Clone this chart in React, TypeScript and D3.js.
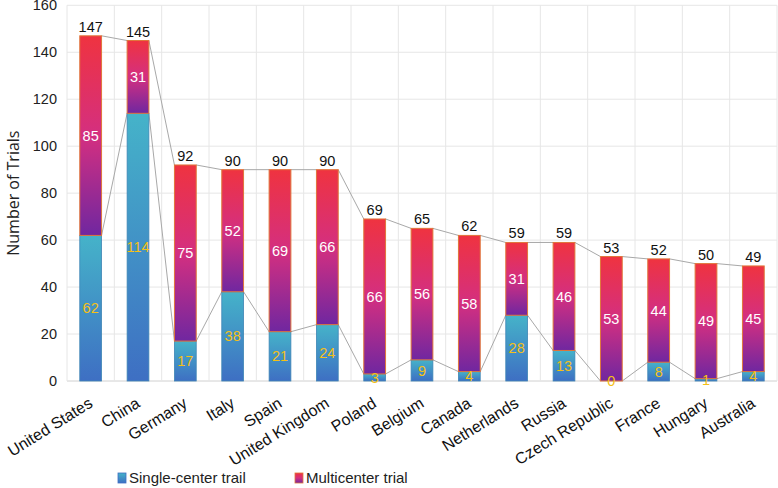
import { useEffect, useRef } from 'react';
import * as d3 from 'd3';

const countries = ['United States', 'China', 'Germany', 'Italy', 'Spain', 'United Kingdom', 'Poland', 'Belgium', 'Canada', 'Netherlands', 'Russia', 'Czech Republic', 'France', 'Hungary', 'Australia'];
const singleCenter = [62, 114, 17, 38, 21, 24, 3, 9, 4, 28, 13, 0, 8, 1, 4];
const multiCenter = [85, 31, 75, 52, 69, 66, 66, 56, 58, 31, 46, 53, 44, 49, 45];
const yTicks = [0, 20, 40, 60, 80, 100, 120, 140, 160];

const FONT = '"Liberation Sans", Arial, sans-serif';
const TITLE_FONT = '"Open Sans", "DejaVu Sans", sans-serif';

export default function App() {
  const ref = useRef<SVGSVGElement>(null);

  useEffect(() => {
    if (!ref.current) return;
    const svg = d3.select(ref.current);
    svg.selectAll('*').remove();

    const W = 778, H = 488;
    const left = 67, right = 777, top = 5.3, bottom = 381;

    const x = d3.scaleBand<string>().domain(countries).range([left, right]);
    const y = d3.scaleLinear().domain([0, 160]).range([bottom, top]);
    const barW = x.bandwidth() * 0.46;

    const defs = svg.append('defs');
    const gS = defs.append('linearGradient').attr('id', 'gSingle').attr('x1', 0).attr('y1', 0).attr('x2', 0).attr('y2', 1);
    gS.append('stop').attr('offset', '0%').attr('stop-color', '#45b3c9');
    gS.append('stop').attr('offset', '100%').attr('stop-color', '#3e6fc3');
    const gM = defs.append('linearGradient').attr('id', 'gMulti').attr('x1', 0).attr('y1', 0).attr('x2', 0).attr('y2', 1);
    gM.append('stop').attr('offset', '0%').attr('stop-color', '#ef3340');
    gM.append('stop').attr('offset', '50%').attr('stop-color', '#d42f80');
    gM.append('stop').attr('offset', '100%').attr('stop-color', '#7027a0');

    // grid
    const grid = svg.append('g');
    yTicks.forEach(t => {
      grid.append('line').attr('x1', left).attr('x2', right).attr('y1', y(t)).attr('y2', y(t))
        .attr('stroke', t === 0 ? '#d0d0d0' : '#e6e6e6').attr('stroke-width', 1);
    });
    [...countries.map(c => x(c)!), right].forEach(px => {
      grid.append('line').attr('x1', px).attr('x2', px).attr('y1', top).attr('y2', bottom)
        .attr('stroke', '#e6e6e6').attr('stroke-width', 1);
    });

    // y ticks
    svg.append('g').selectAll('text').data(yTicks).join('text')
      .attr('x', 57).attr('y', d => y(d)).attr('dy', '0.35em')
      .attr('text-anchor', 'end').style('font-size', '14.5px').style('font-family', FONT).style('fill', '#222')
      .text(d => d);

    svg.append('text').attr('transform', `translate(13,${(top + bottom) / 2}) rotate(-90)`)
      .attr('text-anchor', 'middle').attr('dy', '0.35em')
      .style('font-size', '16px').style('font-family', TITLE_FONT).style('fill', '#222')
      .text('Number of Trials');

    const data = countries.map((c, i) => ({ c, s: singleCenter[i], m: multiCenter[i], t: singleCenter[i] + multiCenter[i] }));
    const bx = (c: string) => x(c)! + (x.bandwidth() - barW) / 2;
    const cx = (c: string) => x(c)! + x.bandwidth() / 2;

    // connector lines between neighbouring bars
    const conn = svg.append('g');
    data.slice(0, -1).forEach((d, i) => {
      const n = data[i + 1];
      conn.append('line').attr('x1', bx(d.c) + barW).attr('y1', y(d.t)).attr('x2', bx(n.c)).attr('y2', y(n.t))
        .attr('stroke', '#a8a8a8').attr('stroke-width', 1);
      conn.append('line').attr('x1', bx(d.c) + barW).attr('y1', y(d.s)).attr('x2', bx(n.c)).attr('y2', y(n.s))
        .attr('stroke', '#a8a8a8').attr('stroke-width', 1);
    });

    const bars = svg.append('g');
    bars.selectAll('.single').data(data).join('rect')
      .attr('x', d => bx(d.c)).attr('y', d => y(d.s))
      .attr('width', barW).attr('height', d => y(0) - y(d.s))
      .attr('fill', 'url(#gSingle)').attr('stroke', '#3f86b5').attr('stroke-width', 0.8);
    bars.selectAll('.multi').data(data).join('rect')
      .attr('x', d => bx(d.c)).attr('y', d => y(d.t))
      .attr('width', barW).attr('height', d => y(d.s) - y(d.t))
      .attr('fill', 'url(#gMulti)').attr('stroke', '#e0753a').attr('stroke-width', 1);

    const labels = svg.append('g').style('font-family', FONT).style('font-size', '14.5px').attr('text-anchor', 'middle');
    labels.selectAll('.tot').data(data).join('text')
      .attr('x', d => cx(d.c)).attr('y', d => y(d.t) - 4)
      .style('fill', '#111').text(d => d.t);
    labels.selectAll('.mv').data(data).join('text')
      .attr('x', d => cx(d.c)).attr('y', d => (y(d.s) + y(d.t)) / 2).attr('dy', '0.35em')
      .style('fill', '#fff').text(d => d.m);
    labels.selectAll('.sv').data(data).join('text')
      .attr('x', d => cx(d.c)).attr('y', d => (y(0) + y(d.s)) / 2).attr('dy', '0.35em')
      .style('fill', '#f5c016').text(d => d.s);

    // category labels
    svg.append('g').selectAll('text').data(countries).join('text')
      .attr('transform', c => `translate(${cx(c) + 3},${bottom + 25}) rotate(-32)`)
      .attr('text-anchor', 'end')
      .style('font-size', '16px').style('font-family', FONT).style('fill', '#111')
      .text(c => c);

    // legend
    const lg = svg.append('g').style('font-family', FONT).style('font-size', '15px');
    lg.append('rect').attr('x', 118).attr('y', 473).attr('width', 8).attr('height', 10)
      .attr('fill', 'url(#gSingle)').attr('stroke', '#3f6fc3').attr('stroke-width', 0.8);
    lg.append('text').attr('x', 129).attr('y', 478).attr('dy', '0.35em').style('fill', '#222').text('Single-center trail');
    lg.append('rect').attr('x', 295).attr('y', 473).attr('width', 8).attr('height', 10)
      .attr('fill', 'url(#gMulti)').attr('stroke', '#e0753a').attr('stroke-width', 0.8);
    lg.append('text').attr('x', 306).attr('y', 478).attr('dy', '0.35em').style('fill', '#222').text('Multicenter trial');

    svg.attr('width', W).attr('height', H);
  }, []);

  return <svg ref={ref} width={778} height={488} style={{ position: 'absolute', left: 0, top: 0 }} />;
}
